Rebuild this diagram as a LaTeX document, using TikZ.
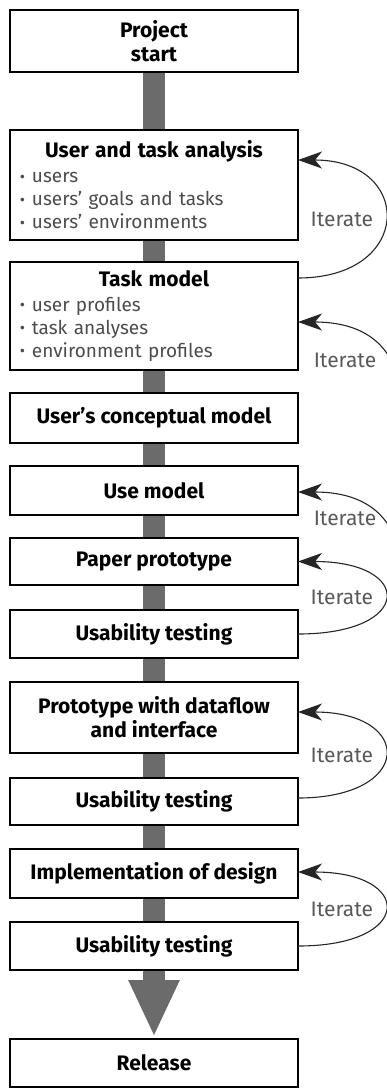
\documentclass[tikz,border=0pt]{standalone}
\usepackage{fontspec}
\setmainfont{Fira Sans}
\usetikzlibrary{arrows.meta,positioning,backgrounds}
\newcommand\titlefont{\fontsize{21}{24}\selectfont\bfseries}
\newcommand\listfont{\fontsize{19}{23}\selectfont}
\newcommand\iterfont{\fontsize{21}{21}\selectfont}
\newcommand\itm{\makebox[12pt][l]{\raisebox{0.5pt}{\fontsize{16}{16}\selectfont\textbullet}}}
\newcommand\boxtitle[1]{\makebox[268pt]{\color{black}\titlefont #1}}
\tikzset{ >={Stealth[length=24pt,width=17pt,inset=7pt]},
  stage/.style={ rectangle, draw=black, line width=1.3pt, fill=white, minimum width=288pt,
    minimum height=48pt, inner sep=0pt, outer sep=0pt, align=center, font=\titlefont},
  listbox/.style={ stage, text width=268pt, align=left, font=\listfont, text=black!70},
  iterline/.style={ ->, line width=1.1pt, draw=black!85},
  iterloop/.style={ iterline, out=0, in=0, distance=116pt},
  iterlbl/.style={ font=\iterfont, text=black!65},
  mainflow/.style={ line width=22pt, draw=black!58, shorten >=2pt, -{Triangle[length=57pt,width=47pt]}}}
\begin{document}
\begin{tikzpicture}[node distance=23pt]
    %stages
    \node[stage, minimum height=62pt] (start) {Project\\start};
    \node[listbox, minimum height=110pt, below=58pt of start] (analysis)
      {\boxtitle{User and task analysis}\\[2pt]
       \itm users\\
       \itm users' goals and tasks\\
       \itm users' environments};
    \node[listbox, minimum height=108pt, below=22pt of analysis] (taskmodel)
      {\boxtitle{Task model}\\[2pt]
       \itm user profiles\\
       \itm task analyses\\
       \itm environment profiles};
    \node[stage, minimum height=50pt, below=of taskmodel] (concept) {User's conceptual model};
    \node[stage, minimum height=49pt, below=of concept] (usemodel) {Use model};
    \node[stage, minimum height=47pt, below=of usemodel] (paper) {Paper prototype};
    \node[stage, below=25pt of paper] (test1) {Usability testing};
    \node[stage, minimum height=71pt, below=24pt of test1] (dataflow) {Prototype with dataflow\\and interface};
    \node[stage, minimum height=47pt, below=25pt of dataflow] (test2) {Usability testing};
    \node[stage, minimum height=49pt, below=24pt of test2] (impl) {Implementation of design};
    \node[stage, below=24pt of impl] (test3) {Usability testing};
    \node[stage, below=69pt of test3] (release) {Release};
    % page frame, the loops run off its right edge
    \useasboundingbox ([shift={(-10pt,10pt)}]start.north west) rectangle ++(387pt,-1088pt);
    \clip ([shift={(-10pt,10pt)}]start.north west) rectangle ++(387pt,-1088pt);
    % the thick gray flow behind the boxes
    \begin{scope}[on background layer]
      \draw[mainflow] (start.south) -- (release.north);
    \end{scope}
    % iterate loops
    \draw[iterloop] ([yshift=38pt]taskmodel.east) to node[iterlbl, left=8pt] {Iterate} ([yshift=25pt]analysis.east);
    \coordinate (cut2) at ([shift={(102pt,-84pt)}]taskmodel.east);
    \draw[iterline] (cut2) to[out=90, in=0, out distance=40pt, in distance=80pt] ([yshift=-6pt]taskmodel.east);
    \node[iterlbl] (it2) at ([shift={(47pt,-44pt)}]taskmodel.east) {Iterate};
    \coordinate (cut3) at ([shift={(102pt,-79pt)}]usemodel.east);
    \draw[iterline] (cut3) to[out=90, in=0, out distance=40pt, in distance=80pt] ([yshift=-1.5pt]usemodel.east);
    \node[iterlbl] (it3) at ([shift={(47pt,-27.5pt)}]usemodel.east) {Iterate};
    \draw[iterloop] (test1.east) to node[iterlbl, left=8pt] {Iterate} (paper.east);
    \draw[iterloop] ([yshift=3.5pt]test2.east) to node[iterlbl, left=8pt] {Iterate} ([yshift=5.5pt]dataflow.east);
    \draw[iterloop] (test3.east) to node[iterlbl, left=8pt] {Iterate} ([yshift=1.5pt]impl.east);
\end{tikzpicture}
\end{document}
